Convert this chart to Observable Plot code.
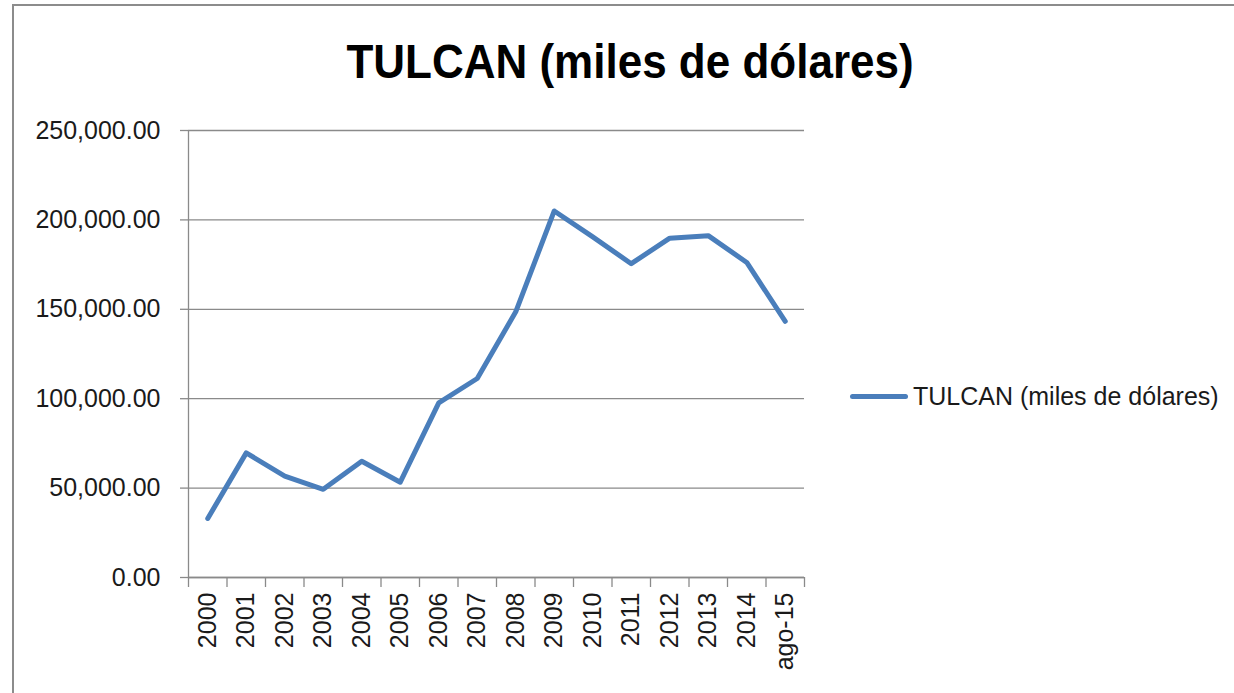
<!DOCTYPE html>
<html>
<head>
<meta charset="utf-8">
<script src="https://cdn.jsdelivr.net/npm/d3@7"></script>
<script src="https://cdn.jsdelivr.net/npm/@observablehq/plot@0.6"></script>
<style>
  html, body { margin: 0; padding: 0; background: #fff; }
  #wrap { position: relative; width: 1234px; height: 693px; overflow: hidden; font-family: "Liberation Sans", Arial, sans-serif; }
  #frame { position: absolute; left: 12px; top: 4px; width: 1240px; height: 720px; border: 2px solid #8c8c8c; box-sizing: border-box; }
  #title { position: absolute; left: 0; width: 1260px; top: 37px; line-height: 1; text-align: center; font-weight: bold; font-size: 44px; color: #000; transform: scaleY(1.1); transform-origin: top center; }
  #legend { position: absolute; left: 850px; top: 382px; display: flex; align-items: center; font-size: 25px; color: #1a1a1a; }
  #legend .sw { width: 58px; height: 5px; background: #4a7ebb; border-radius: 3px; margin-right: 5px; }
  #chart { position: absolute; left: 0; top: 0; }
</style>
</head>
<body>
<div id="wrap">
  <div id="frame"></div>
  <div id="chart"></div>
  <div id="title">TULCAN (miles de dólares)</div>
  <div id="legend"><div class="sw"></div><span>TULCAN (miles de dólares)</span></div>
</div>
<script>
const categories = ["2000","2001","2002","2003","2004","2005","2006","2007","2008","2009","2010","2011","2012","2013","2014","ago-15"];
const values = [33000, 69700, 56700, 49300, 65000, 53300, 97700, 111300, 148600, 205000, 190500, 175500, 189800, 191200, 176200, 143300];
const yTicks = [0, 50000, 100000, 150000, 200000, 250000];
const seriesName = "TULCAN (miles de dólares)";

const data = categories.map((c, i) => ({cat: c, value: values[i]}));

const W = 1234, H = 693;
const mL = 188, mR = 430, mT = 130, mB = 116;
const bw = (W - mL - mR) / categories.length;
const fmt = d3.format(",.2f");

const chart = Plot.plot({
  width: W,
  height: H,
  marginLeft: mL,
  marginRight: mR,
  marginTop: mT,
  marginBottom: mB,
  style: {fontFamily: "'Liberation Sans', Arial, sans-serif", fontSize: "25px", color: "#1a1a1a", background: "transparent"},
  x: {type: "band", domain: categories, padding: 0, round: false},
  y: {domain: [0, 250000]},
  marks: [
    Plot.gridY(yTicks, {stroke: "#8a8a8a", strokeOpacity: 1, strokeWidth: 1.3}),
    Plot.axisY(yTicks, {tickFormat: fmt, tickSize: 8, tickPadding: 20, stroke: "#8a8a8a", strokeWidth: 1.3, fill: "#1a1a1a", fontSize: 25, label: null}),
    Plot.ruleX([categories[0]], {x: d => d, dx: -bw / 2, stroke: "#8a8a8a", strokeWidth: 1.3}),
    Plot.ruleY([0], {stroke: "#8a8a8a", strokeWidth: 1.3}),
    Plot.ruleX(categories, {x: d => d, y1: 0, y2: 0, insetBottom: -10, dx: -bw / 2, stroke: "#8a8a8a", strokeWidth: 1.3}),
    Plot.ruleX([categories[categories.length - 1]], {x: d => d, y1: 0, y2: 0, insetBottom: -10, dx: bw / 2, stroke: "#8a8a8a", strokeWidth: 1.3}),
    Plot.axisX({tickSize: 0, tickPadding: 15, tickRotate: -90, fill: "#1a1a1a", fontSize: 25, label: null}),
    Plot.line(data, {x: "cat", y: "value", stroke: "#4a7ebb", strokeWidth: 5, strokeLinejoin: "round", strokeLinecap: "round"})
  ]
});
document.getElementById("chart").appendChild(chart);
</script>
</body>
</html>
